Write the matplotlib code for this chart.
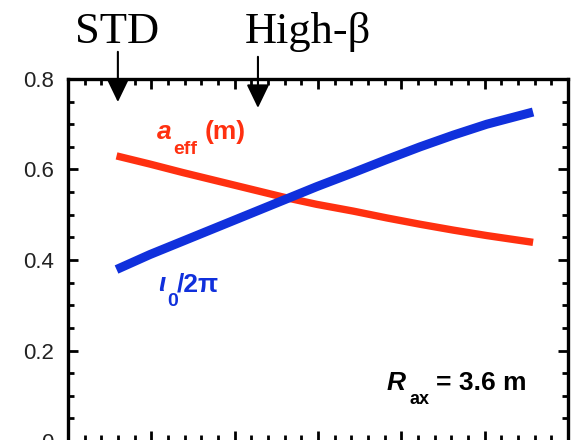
import matplotlib.pyplot as plt
import numpy as np

# values (x in arbitrary axis units, no x labels shown)
x_vals = [0.584, 0.984, 1.384, 1.784, 2.184, 2.584, 2.984, 3.424, 3.824,
          4.224, 4.624, 5.024, 5.580]
a_eff = [0.630, 0.612, 0.593, 0.575, 0.557, 0.539, 0.523, 0.508, 0.493,
         0.479, 0.466, 0.454, 0.439]
iota = [0.379, 0.412, 0.442, 0.472, 0.502, 0.532, 0.562, 0.593, 0.622,
        0.650, 0.676, 0.700, 0.727]

x_std = 0.60
x_highbeta = 2.28

RED = "#ff3010"
BLUE = "#1030dc"
W, H = 575, 440


def ptext(px, py, s, **kw):
    """Texto en coordenadas de pixel de la figura (origen arriba a la izquierda)."""
    kw.setdefault("family", "Liberation Sans")
    kw.setdefault("fontweight", "bold")
    fig.text(px / W, 1 - py / H, s, va="baseline", ha="left", **kw)


fig = plt.figure(figsize=(5.75, 4.40), dpi=100)
ax = fig.add_axes([0.118, -0.0023, 0.870, 0.8228])

ax.plot(x_vals, a_eff, color=RED, lw=5.3, solid_capstyle="butt")
ax.plot(x_vals, iota, color=BLUE, lw=6.5, solid_capstyle="butt")

ax.set_xlim(0, 6)
ax.set_ylim(0, 0.8)
ax.set_xticks(np.arange(0, 6.01, 1.0))
ax.set_xticks(np.arange(0, 6.01, 0.2), minor=True)
ax.set_yticks(np.arange(0, 0.81, 0.2))
ax.set_yticks(np.arange(0, 0.81, 0.05), minor=True)
ax.set_yticklabels(["0", "0.2", "0.4", "0.6", "0.8"])
ax.tick_params(which="both", direction="in", top=True, right=True, width=2.0,
               labelbottom=False)
ax.tick_params(which="major", length=7.5)
ax.tick_params(which="minor", length=4.5)
ax.tick_params(axis="y", labelsize=16, labelcolor="#222222", pad=10)
for lab in ax.get_yticklabels():
    lab.set_family("Liberation Sans")
for s in ax.spines.values():
    s.set_linewidth(2.4)

# a_eff (m)
ptext(157, 139, "a", color=RED, fontsize=19, fontstyle="italic")
ptext(173, 154, "eff", color=RED, fontsize=14)
ptext(205, 139, "(m)", color=RED, fontsize=19)

# iota_0 / 2 pi
ptext(158, 291, "ι", color=BLUE, fontsize=19, fontstyle="italic")
ptext(167, 306, "0", color=BLUE, fontsize=14)
ptext(177, 291, "/2π", color=BLUE, fontsize=19)

# R_ax = 3.6 m
ptext(387, 390, "R", color="black", fontsize=19, fontstyle="italic")
ptext(410, 404, "ax", color="black", fontsize=13)
ptext(436, 390, "= 3.6 m", color="black", fontsize=19)

arrow = dict(arrowstyle="-|>,head_width=0.7,head_length=1.45", color="black",
             lw=1.5, shrinkA=0, shrinkB=0)
ax.annotate("", xy=(x_std, 0.749), xytext=(x_std, 0.86), arrowprops=arrow,
            annotation_clip=False)
ax.annotate("", xy=(x_highbeta, 0.736), xytext=(x_highbeta, 0.849),
            arrowprops=arrow, annotation_clip=False)

fig.text(117 / W, 1 - 43 / H, "STD", ha="center", va="baseline",
         fontsize=32, family="Liberation Serif")
fig.text(308 / W, 1 - 43 / H, "High-β", ha="center", va="baseline",
         fontsize=32, family="Liberation Serif")

fig.savefig("out.png", dpi=100)
